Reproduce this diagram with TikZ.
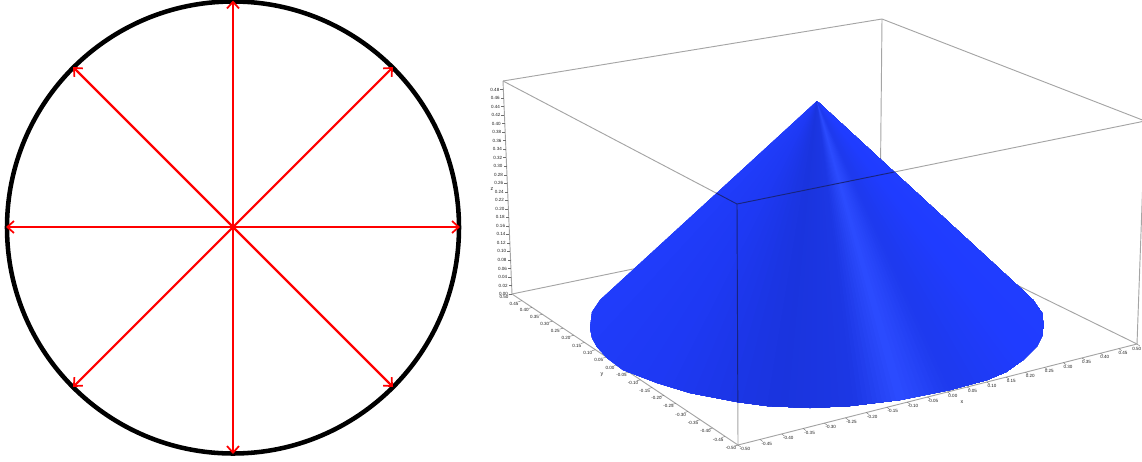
\documentclass[tikz,border=0pt]{standalone}
\usepackage{fontspec}
\setmainfont{Liberation Sans}
\usetikzlibrary{arrows.meta}
\definecolor{arrowred}{RGB}{255,0,0}
\definecolor{boxgray}{RGB}{165,165,165}
\definecolor{boxdark}{RGB}{24,36,125}
\definecolor{tickgray}{RGB}{110,110,110}
\definecolor{labelgray}{RGB}{30,30,30}
\definecolor{coneA}{RGB}{33,62,255}
\definecolor{coneB}{RGB}{30,57,243}
\definecolor{coneC}{RGB}{26,52,222}
\definecolor{coneD}{RGB}{28,55,228}
\definecolor{coneE}{RGB}{44,76,255}
\definecolor{coneF}{RGB}{30,58,238}
\definecolor{coneG}{RGB}{31,60,255}
\tikzset{
  spoke/.style={draw=arrowred,line width=1.6pt,{Straight Barb[length=5pt,width=9pt,line width=1.3pt]}-{Straight Barb[length=5pt,width=9pt,line width=1.3pt]}},
  rim/.style={draw=black,line width=3.4pt},
  boxline/.style={draw=boxgray,line width=0.7pt},
  boxfront/.style={draw=boxdark,line width=0.7pt},
  tickmark/.style={draw=tickgray,line width=0.3pt},
  ticklabel/.style={text=labelgray,font=\fontsize{3.4}{3.7}\selectfont,inner sep=0pt},
  axislabel/.style={text=labelgray,font=\fontsize{4}{4.2}\selectfont,inner sep=0pt}
}
\newcommand{\conepath}{(817,101) -- (1017,285) -- (1033,300) -- (1042,313) -- (1043.5,325) -- (1042,336) -- (1037,346) -- (1023,360) -- (1006,372) -- (987,380) -- (950,390) -- (900,400) -- (850,406) -- (810,408) -- (767,406) -- (737,402) -- (690,393) -- (657,383) -- (623,370) -- (607,358) -- (597,347) -- (592,338) -- (590,328) -- (592,312) -- (600,300) -- cycle}
\begin{document}
\begin{tikzpicture}[x=0.75pt,y=-0.75pt]
\clip (0,0) rectangle (1142,461);
% left figure
\coordinate (c) at (233,227.5);
\draw[rim] (c) circle [radius=226];
\coordinate (n) at (233,0.5);
\coordinate (s) at (233,454);
\coordinate (w) at (6,227);
\coordinate (e) at (460,227);
\coordinate (nw) at (73,67);
\coordinate (ne) at (393,67);
\coordinate (sw) at (73,387);
\coordinate (se) at (393,387);
\draw[spoke] (n) -- (s);
\draw[spoke] (w) -- (e);
\draw[spoke] (nw) -- (se);
\draw[spoke] (ne) -- (sw);
% box corners
\coordinate (tl) at (503,81);
\coordinate (bl) at (512,294);
\coordinate (tb) at (882,19);
\coordinate (bb) at (880,218);
\coordinate (tr) at (1145,121);
\coordinate (br) at (1137,344);
\coordinate (tf) at (737,204);
\coordinate (bf) at (738,445);
% back lines and axes
\draw[boxline] (tl) -- (tb) -- (tr);
\draw[boxline] (tb) -- (bb);
\draw[boxline] (bl) -- (bb) -- (br);
\draw[boxline] (tl) -- (bl);
\draw[boxline] (br) -- (tr);
\draw[boxline] (bl) -- (bf) -- (br);
\draw[boxline] (tl) -- (tf) -- (tr);
\draw[boxline] (tf) -- (bf);
% z ticks
\foreach \i/\l in {0/0.00,1/0.02,2/0.04,3/0.06,4/0.08,5/0.10,6/0.12,7/0.14,8/0.16,9/0.18,10/0.20,11/0.22,12/0.24,13/0.26,14/0.28,15/0.30,16/0.32,17/0.34,18/0.36,19/0.38,20/0.40,21/0.42,22/0.44,23/0.46,24/0.48}{
  \pgfmathsetmacro{\px}{512-9*\i/25}
  \pgfmathsetmacro{\py}{294-213*\i/25}
  \draw[tickmark] (\px,\py) -- ++(-3,0);
  \node[ticklabel] (zl\i) at (\px-8.5,\py) {\l};
}
\node[axislabel] (zname) at (492,189) {z};
% y ticks
\foreach \i/\l in {0/0.50,1/0.45,2/0.40,3/0.35,4/0.30,5/0.25,6/0.20,7/0.15,8/0.10,9/0.05,10/0.00,11/-0.05,12/-0.10,13/-0.15,14/-0.20,15/-0.25,16/-0.30,17/-0.35,18/-0.40,19/-0.45,20/-0.50}{
  \pgfmathsetmacro{\t}{\i/20}
  \pgfmathsetmacro{\f}{\t/(\t+1.14*(1-\t))}
  \draw[tickmark] (512+226*\f,294+151*\f) -- ++(-3.5,1);
  \node[ticklabel] (yl\i) at (504+227*\f,297+151*\f) {\l};
}
\node[axislabel] (yname) at (602,375) {y};
% x ticks
\foreach \i/\l in {0/-0.50,1/-0.45,2/-0.40,3/-0.35,4/-0.30,5/-0.25,6/-0.20,7/-0.15,8/-0.10,9/-0.05,10/0.00,11/0.05,12/0.10,13/0.15,14/0.20,15/0.25,16/0.30,17/0.35,18/0.40,19/0.45}{
  \pgfmathsetmacro{\t}{\i/20}
  \pgfmathsetmacro{\f}{\t/(\t+0.905*(1-\t))}
  \draw[tickmark] (738+399*\f,445-101*\f) -- ++(2.8,2);
  \node[ticklabel] (xl\i) at (745+396*\f,449-101*\f) {\l};
}
\draw[tickmark] (br) -- ++(2.8,2);
\node[ticklabel,anchor=east] (xl20) at (1141.5,349) {0.50};
\node[axislabel] (xname) at (962,402) {x};
% cone: each wedge repaints everything to its right, so no seams show
\begin{scope}
  \clip \conepath;
  \fill[coneA] (560,90) rectangle (1060,421);
  \foreach \sa/\ca/\sb/\cb in {-1.3/coneA/-0.55/coneB,-0.55/coneB/-0.12/coneC,-0.12/coneC/0.12/coneD,0.12/coneD/0.28/coneE,0.28/coneE/0.46/coneF,0.46/coneF/0.8/coneG,0.8/coneG/1.3/coneA}{
    \foreach \k in {0,1,...,9}{
      \pgfmathsetmacro{\mixv}{\k*10+5}
      \pgfmathsetmacro{\xa}{817+320*(\sa+(\sb-\sa)*\k/10)}
      \colorlet{wedgecol}{\cb!\mixv!\ca}
      \fill[wedgecol] (817,101) -- (\xa,421) -- (1300,421) -- cycle;
    }
  }
\end{scope}
% front box lines seen through the cone
\begin{scope}
  \clip \conepath;
  \draw[boxfront] (tl) -- (tf) -- (tr);
  \draw[boxfront] (tf) -- (bf);
\end{scope}
\end{tikzpicture}
\end{document}
